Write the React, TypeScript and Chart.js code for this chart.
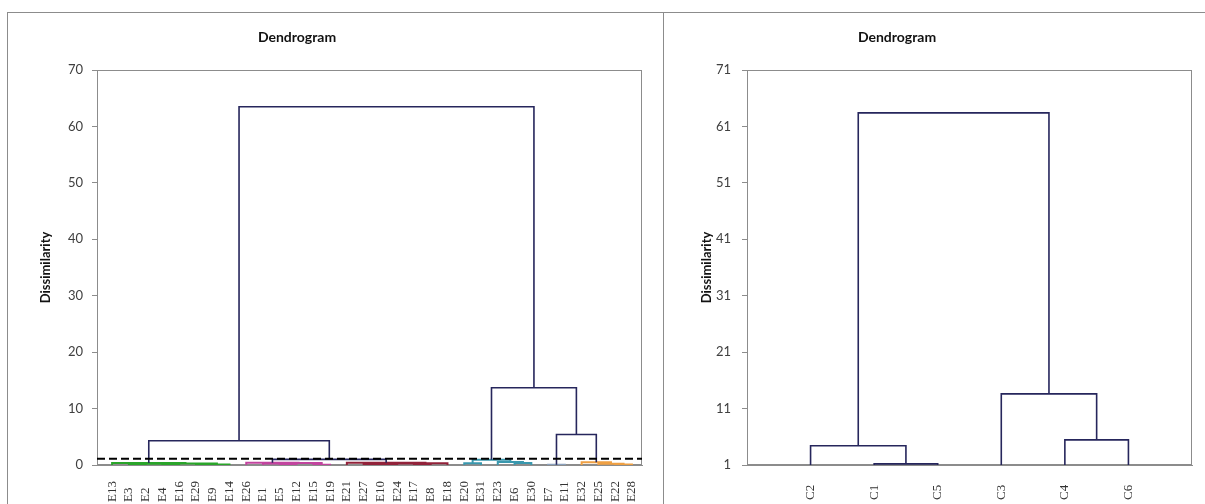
import React, { useEffect, useRef } from 'react';
import { Chart, registerables } from 'chart.js';

Chart.register(...registerables);

// ---------- Left dendrogram data ----------
const leftLeaves = ['E13', 'E3', 'E2', 'E4', 'E16', 'E29', 'E9', 'E14', 'E26', 'E1', 'E5', 'E12', 'E15', 'E19', 'E21', 'E27', 'E10', 'E24', 'E17', 'E8', 'E18', 'E20', 'E31', 'E23', 'E6', 'E30', 'E7', 'E11', 'E32', 'E25', 'E22', 'E28'];
// merge k joins node A[k] and B[k] at height H[k]; node ids: leaves 0..n-1, merges n+k
const leftMergeA = [1, 3, 32, 5, 35, 34, 0, 10, 9, 12, 40, 8, 15, 44, 18, 45, 47, 14, 21, 24, 23, 50, 26, 30, 29, 28, 43, 38, 54, 53, 59];
const leftMergeB = [2, 4, 33, 6, 7, 36, 37, 11, 39, 13, 41, 42, 16, 17, 19, 46, 20, 48, 22, 25, 51, 52, 27, 31, 55, 56, 49, 58, 57, 60, 61];
const leftMergeH = [0.08, 0.12, 0.2, 0.06, 0.1, 0.28, 0.35, 0.1, 0.25, 0.05, 0.35, 0.4, 0.08, 0.12, 0.1, 0.25, 0.3, 0.38, 0.3, 0.35, 0.55, 0.95, 0.05, 0.1, 0.2, 0.5, 1.0, 4.3, 5.4, 13.7, 63.5];
const leftMergeGroup = ['g', 'g', 'g', 'g', 'g', 'g', 'g', 'm', 'm', 'm', 'm', 'm', 'r', 'r', 'r', 'r', 'r', 'r', 'c', 'c', 'c', 'c', 's', 'o', 'o', 'o', 'k', 'k', 'k', 'k', 'k'];
const leftCut = 1.1;
const leftYTicks = [0, 10, 20, 30, 40, 50, 60, 70];

// ---------- Right dendrogram data ----------
const rightLeaves = ['C2', 'C1', 'C5', 'C3', 'C4', 'C6'];
const rightMergeA = [1, 0, 4, 3, 7];
const rightMergeB = [2, 6, 5, 8, 9];
const rightMergeH = [1.2, 4.4, 5.45, 13.6, 63.4];
const rightYTicks = [1, 11, 21, 31, 41, 51, 61, 71];

// ---------- styles ----------
const AXIS = '#8c8c8c';
const NAVY = '#26265c';
const GROUP_COLORS: Record<string, string> = {
  g: '#2aa52a',
  m: '#c2449f',
  r: '#92223a',
  c: '#3a98ae',
  s: '#8aa0bb',
  o: '#efa043',
  k: NAVY,
};
const SANS = 'Lato, "Open Sans", sans-serif';
const SERIF = '"Liberation Serif", "DejaVu Serif", serif';

type Pt = { x: number; y: number | null };

function buildLinks(n: number, A: number[], B: number[], H: number[], G: string[] | null, base: number) {
  const pos: number[] = [];
  const hgt: number[] = [];
  for (let i = 0; i < n; i++) {
    pos.push(i);
    hgt.push(base);
  }
  const groups: Record<string, Pt[]> = {};
  A.forEach((a, k) => {
    const b = B[k];
    const h = H[k];
    const pa = pos[a];
    const pb = pos[b];
    const g = G ? G[k] : 'k';
    if (!groups[g]) groups[g] = [];
    groups[g].push({ x: pa, y: hgt[a] }, { x: pa, y: h }, { x: pb, y: h }, { x: pb, y: hgt[b] }, { x: pb, y: null });
    pos.push((pa + pb) / 2);
    hgt.push(h);
  });
  return groups;
}

function makeDecor(cfg: { titleX: number; titleY: number; labels: string[]; labelBottom: number }) {
  return {
    id: 'decor',
    beforeDatasetsDraw(chart: any) {
      const { ctx, chartArea: a } = chart;
      ctx.save();
      ctx.strokeStyle = AXIS;
      ctx.lineWidth = 1;
      ctx.strokeRect(Math.round(a.left) + 0.5, Math.round(a.top) + 0.5, Math.round(a.right - a.left) - 1, Math.round(a.bottom - a.top) - 1);
      ctx.restore();
    },
    afterDraw(chart: any) {
      const { ctx } = chart;
      const xs = chart.scales.x;
      ctx.save();
      ctx.fillStyle = '#111';
      ctx.font = `bold 14px ${SANS}`;
      ctx.textAlign = 'center';
      ctx.textBaseline = 'middle';
      ctx.fillText('Dendrogram', cfg.titleX, cfg.titleY);
      ctx.font = `13px ${SERIF}`;
      ctx.fillStyle = '#333';
      ctx.textAlign = 'left';
      cfg.labels.forEach((lab, i) => {
        ctx.save();
        ctx.translate(xs.getPixelForValue(i), cfg.labelBottom);
        ctx.rotate(-Math.PI / 2);
        ctx.fillText(lab, 0, 0);
        ctx.restore();
      });
      ctx.restore();
    },
  };
}

function makeOptions(p: {
  xMin: number; xMax: number; yMin: number; yMax: number; yTicks: number[];
  padTop: number; padRight: number; yWidth: number; xHeight: number; titlePad: number; tickPad: number;
}) {
  return {
    animation: false,
    responsive: false,
    maintainAspectRatio: false,
    events: [],
    layout: { padding: { top: p.padTop, right: p.padRight, left: 0, bottom: 0 } },
    plugins: { legend: { display: false }, tooltip: { enabled: false }, title: { display: false } },
    scales: {
      x: {
        type: 'linear',
        min: p.xMin,
        max: p.xMax,
        ticks: { display: false },
        grid: { display: false },
        border: { display: true, color: AXIS },
        afterFit: (s: any) => { s.height = p.xHeight; },
      },
      y: {
        type: 'linear',
        min: p.yMin,
        max: p.yMax,
        afterBuildTicks: (s: any) => { s.ticks = p.yTicks.map((v) => ({ value: v })); },
        ticks: { font: { family: SANS, size: 13 }, color: '#404040', padding: p.tickPad },
        grid: { display: true, drawOnChartArea: false, drawTicks: true, tickLength: 5, color: AXIS },
        border: { display: true, color: AXIS },
        title: {
          display: true,
          text: 'Dissimilarity',
          font: { family: SANS, size: 13, weight: 'bold' },
          color: '#111',
          padding: { top: p.titlePad, bottom: 0 },
        },
        afterFit: (s: any) => { s.width = p.yWidth; },
      },
    },
  } as any;
}

function groupDatasets(groups: Record<string, Pt[]>) {
  return Object.keys(groups).map((g) => ({
    data: groups[g],
    showLine: true,
    spanGaps: false,
    borderColor: GROUP_COLORS[g],
    borderWidth: g === 'k' ? 1.6 : 2,
    pointRadius: 0,
    order: g === 'k' ? 1 : 2,
  }));
}

export default function App() {
  const leftRef = useRef<HTMLCanvasElement | null>(null);
  const rightRef = useRef<HTMLCanvasElement | null>(null);

  useEffect(() => {
    const leftGroups = buildLinks(leftLeaves.length, leftMergeA, leftMergeB, leftMergeH, leftMergeGroup, 0);
    const leftXMin = -0.9;
    const leftXMax = 31.6;
    const leftDatasets: any[] = groupDatasets(leftGroups);
    leftDatasets.push({
      data: [{ x: leftXMin, y: leftCut }, { x: leftXMax, y: leftCut }],
      showLine: true,
      borderColor: '#000',
      borderWidth: 2,
      borderDash: [8, 4],
      pointRadius: 0,
      order: 0,
    });
    const left = new Chart(leftRef.current as HTMLCanvasElement, {
      type: 'scatter',
      data: { datasets: leftDatasets },
      options: makeOptions({
        xMin: leftXMin, xMax: leftXMax, yMin: 0, yMax: 70, yTicks: leftYTicks,
        padTop: 57, padRight: 21, yWidth: 89, xHeight: 39, titlePad: 30, tickPad: 9,
      }),
      plugins: [makeDecor({ titleX: 289, titleY: 24, labels: leftLeaves, labelBottom: 489 })],
    } as any);

    const rightGroups = buildLinks(rightLeaves.length, rightMergeA, rightMergeB, rightMergeH, null, 1);
    const right = new Chart(rightRef.current as HTMLCanvasElement, {
      type: 'scatter',
      data: { datasets: groupDatasets(rightGroups) },
      options: makeOptions({
        xMin: -1, xMax: 6, yMin: 1, yMax: 71, yTicks: rightYTicks,
        padTop: 57, padRight: 13, yWidth: 83, xHeight: 39, titlePad: 35, tickPad: 11,
      }),
      plugins: [makeDecor({ titleX: 233, titleY: 24, labels: rightLeaves, labelBottom: 487 })],
    } as any);

    return () => {
      left.destroy();
      right.destroy();
    };
  }, []);

  return (
    <div style={{ position: 'fixed', left: 0, top: 0, width: 1205, height: 504, overflow: 'hidden', background: '#fff' }}>
      <div style={{ position: 'absolute', left: 7, top: 12, width: 1400, height: 800, border: `1px solid ${AXIS}`, boxSizing: 'border-box' }} />
      <div style={{ position: 'absolute', left: 663, top: 12, width: 1, height: 800, background: AXIS }} />
      <canvas ref={leftRef} width={655} height={491} style={{ position: 'absolute', left: 8, top: 13, width: 655, height: 491 }} />
      <canvas ref={rightRef} width={541} height={491} style={{ position: 'absolute', left: 664, top: 13, width: 541, height: 491 }} />
    </div>
  );
}
